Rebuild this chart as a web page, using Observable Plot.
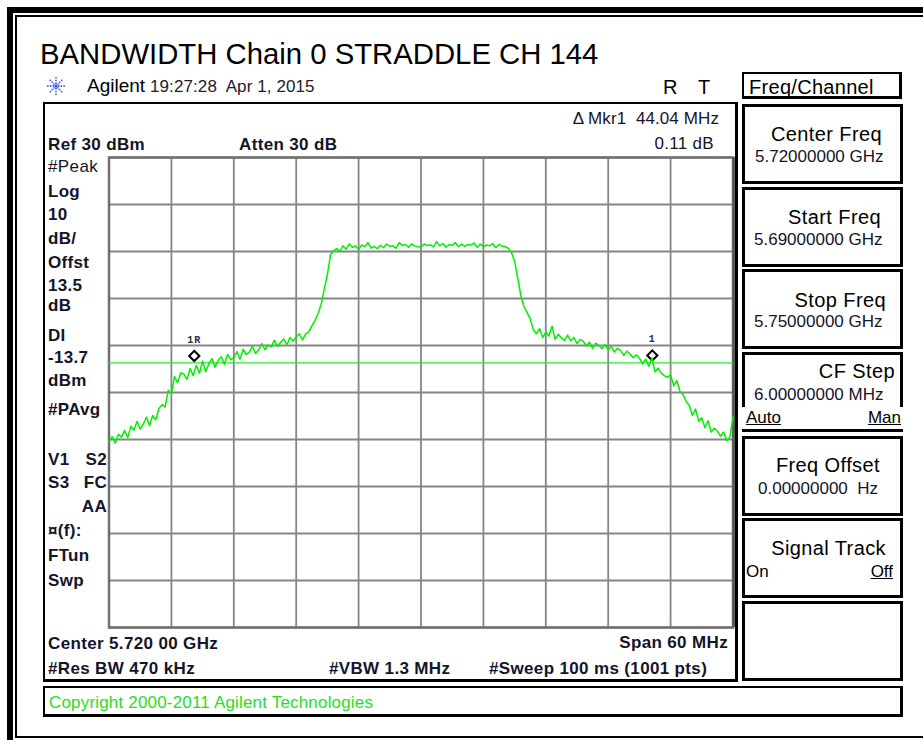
<!DOCTYPE html>
<html><head><meta charset="utf-8">
<script src="https://cdn.jsdelivr.net/npm/d3@7"></script>
<script src="https://cdn.jsdelivr.net/npm/@observablehq/plot@0.6"></script>
<style>
body{margin:0;background:#fff;}
#page{position:relative;width:923px;height:740px;overflow:hidden;background:#fff;font-family:"Liberation Sans",Arial,sans-serif;}
.t{position:absolute;white-space:pre;line-height:1;}
.box{position:absolute;box-sizing:border-box;border:2px solid #000;}
.sa text{letter-spacing:1px;}
</style></head><body><div id="page"></div><script>
// ---- data ----
const startMHz = 5690, stopMHz = 5750;
const xGrid = [5690, 5696, 5702, 5708, 5714, 5720, 5726, 5732, 5738, 5744, 5750];
const yGrid = [-70, -60, -50, -40, -30, -20, -10, 0, 10, 20, 30];
const displayLine = -13.7;
const traceDbm = [
 -30.5,-29.4,-30.8,-28.9,-29.5,-28.1,-29.6,-27.2,-28.0,-26.1,
 -27.8,-26.7,-25.2,-27.1,-24.9,-25.8,-23.4,-22.6,-23.1,-19.5,
 -20.3,-16.6,-17.9,-15.8,-16.1,-17.2,-14.9,-16.4,-14.2,-15.9,
 -13.3,-15.6,-13.9,-12.8,-14.6,-13.1,-12.4,-14.0,-11.9,-13.0,
 -12.6,-11.3,-12.9,-10.8,-11.9,-11.4,-10.2,-11.7,-10.9,-9.6,
 -10.9,-9.9,-10.3,-8.9,-10.2,-9.3,-8.6,-9.9,-8.3,-9.1,
 -8.2,-7.5,-8.8,-7.6,-7.1,-5.9,-4.7,-3.2,-1.2,2.0,
 5.1,9.3,10.2,10.6,10.1,11.2,10.5,11.6,10.9,11.2,
 10.4,11.4,11.0,11.9,10.7,11.1,10.6,11.3,10.8,11.6,
 11.1,11.2,10.7,11.9,11.3,11.5,10.9,11.6,11.2,11.0,
 10.9,11.6,11.3,11.4,11.0,12.1,11.2,11.7,10.9,11.5,
 11.3,11.9,11.0,11.6,11.1,11.5,11.4,11.8,10.9,11.6,
 11.0,11.4,11.2,11.7,10.8,11.5,11.1,11.0,10.7,9.8,
 7.9,4.4,0.6,-1.7,-3.0,-4.3,-6.6,-7.5,-6.4,-8.3,
 -7.2,-8.0,-5.9,-8.7,-7.6,-8.4,-8.9,-7.8,-9.0,-8.3,
 -9.6,-8.7,-9.1,-10.1,-9.3,-10.6,-9.5,-10.0,-10.7,-9.8,
 -10.9,-10.2,-11.4,-10.6,-11.1,-12.1,-11.2,-11.8,-12.6,-12.0,
 -12.7,-13.9,-12.9,-14.4,-12.6,-15.6,-14.8,-15.9,-16.4,-16.8,
 -16.2,-18.6,-17.5,-19.8,-20.4,-21.9,-22.8,-24.9,-23.5,-26.1,
 -25.4,-27.5,-26.0,-28.4,-27.6,-28.2,-29.3,-28.4,-30.2,-29.5,
 -25.2];
const markerFreq = [5698.2, 5742.24];
const markerDbm = [-13.6, -13.5];
const markerLabel = ["1R", "1"];

const titleText = "BANDWIDTH Chain 0 STRADDLE CH 144";
const leftLabels = [
 ["#Peak", 48, 172, false, "start"], ["Log", 48, 197, true, "start"], ["10", 48, 220, true, "start"],
 ["dB/", 48, 244, true, "start"], ["Offst", 48, 268, true, "start"], ["13.5", 48, 291, true, "start"],
 ["dB", 48, 311, true, "start"], ["DI", 48, 341, true, "start"], ["-13.7", 48, 363, true, "start"],
 ["dBm", 48, 386, true, "start"], ["#PAvg", 48, 415, true, "start"],
 ["V1", 48, 465, true, "start"], ["S2", 107, 465, true, "end"],
 ["S3", 48, 488, true, "start"], ["FC", 107, 488, true, "end"],
 ["AA", 107, 512, true, "end"], ["¤(f):", 48, 536, true, "start"],
 ["FTun", 48, 561, true, "start"], ["Swp", 48, 586, true, "start"]
];
const softkeyTops = [104, 187, 269, 352, 436, 518, 601];
const softkeyTitles = ["Center Freq", "Start Freq", "Stop Freq", "CF Step", "Freq Offset", "Signal Track", ""];
const softkeyTitleRight = [882, 881, 886, 895, 880, 886, 0];
const softkeyTitleDy = [37, 37, 37.5, 25.5, 35.7, 37, 0];
const softkeyValues = ["5.72000000 GHz", "5.69000000 GHz", "5.75000000 GHz", "6.00000000 MHz", "0.00000000  Hz", "", ""];
const softkeyValueLeft = [755, 754, 754, 754, 758, 0, 0];
const softkeyValueDy = [58.5, 58.5, 58, 48.5, 58, 0, 0];

// ---- helpers ----
const page = document.getElementById("page");
function txt(s, x, base, o = {}) {
  const size = o.size || 17;
  const d = document.createElement("div");
  d.className = "t";
  d.textContent = s;
  d.style.fontSize = size + "px";
  d.style.left = x + "px";
  d.style.top = (base - 0.8465 * size) + "px";
  d.style.color = o.color || "#14142a";
  if (o.bold) d.style.fontWeight = "bold";
  if (o.ls) d.style.letterSpacing = o.ls + "px";
  if (o.anchor === "end") d.style.transform = "translateX(-100%)";
  if (o.underline) d.style.textDecoration = "underline";
  page.appendChild(d);
  return d;
}
function box(x, y, w, h, bw = 2, extra = {}) {
  const d = document.createElement("div");
  d.className = "box";
  Object.assign(d.style, {left: x + "px", top: y + "px", width: w + "px", height: h + "px", borderWidth: bw + "px"}, extra);
  page.appendChild(d);
  return d;
}

// ---- chart ----
const freqs = traceDbm.map((_, i) => startMHz + i * (stopMHz - startMHz) / (traceDbm.length - 1));
const trace = traceDbm.map((v, i) => ({f: freqs[i], v}));
const markers = markerFreq.map((f, i) => ({f, v: markerDbm[i], label: markerLabel[i]}));

const chart = Plot.plot({
  width: 923, height: 740,
  marginLeft: 108.5, marginRight: 190.5, marginTop: 157, marginBottom: 113,
  x: {domain: [startMHz, stopMHz], axis: null},
  y: {domain: [-70, 30], axis: null},
  className: "sa",
  style: {background: "transparent", overflow: "visible"},
  marks: [
    Plot.ruleX(xGrid, {stroke: "#858585", strokeWidth: 1.8}),
    Plot.ruleY(yGrid, {stroke: "#858585", strokeWidth: 1.8}),
    Plot.frame({stroke: "#707070", strokeWidth: 2.5}),
    Plot.ruleX([stopMHz], {stroke: "#5a5a5a", strokeWidth: 3.5, dx: 1}),
    Plot.ruleY([displayLine], {stroke: "#2ee82e", strokeWidth: 1.2}),
    Plot.dot(markers, {x: "f", y: "v", symbol: "diamond2", r: 4.6, stroke: "#000", strokeWidth: 2, fill: "#fff", dy: -6.5}),
    Plot.line(trace, {x: "f", y: "v", stroke: "#00f000", strokeWidth: 1.5}),
    Plot.text(markers, {x: "f", y: "v", text: "label", dy: -23, fontSize: 10, fontFamily: "Liberation Mono", fontWeight: "bold", fill: "#2a2a4a"})
  ]
});
chart.style.position = "absolute";
chart.style.left = "0px";
chart.style.top = "0px";
page.appendChild(chart);

// ---- frames ----
box(7, 7, 940, 760, 6);
box(15, 15, 930, 723, 2);
box(43, 102, 695, 580, 2, {borderRightWidth: "3px", borderBottomWidth: "3px"});
box(43, 686, 860, 31, 2, {borderRightWidth: "3px", borderBottomWidth: "3px"});
box(742, 72, 160, 27, 2, {borderRightWidth: "3px", borderBottomWidth: "3px"});
softkeyTops.forEach(t => box(742, t, 161, 80, 3));

// ---- header ----
txt(titleText, 40, 63.5, {size: 29.3, color: "#000"});
const logo = document.createElementNS("http://www.w3.org/2000/svg", "svg");
logo.setAttribute("width", 22); logo.setAttribute("height", 22);
Object.assign(logo.style, {position: "absolute", left: "45px", top: "75px"});
let ray = "";
for (let k = 0; k < 8; k++) {
  const a = k * Math.PI / 4;
  ray += `<line x1="${11 + 2 * Math.cos(a)}" y1="${11 + 2 * Math.sin(a)}" x2="${11 + 9 * Math.cos(a)}" y2="${11 + 9 * Math.sin(a)}" stroke="#2233ee" stroke-width="1.3" stroke-dasharray="1.5 1.2"/>`;
}
logo.innerHTML = ray + `<circle cx="11" cy="11" r="1.5" fill="#2233ee"/>`;
page.appendChild(logo);
txt("Agilent", 87, 92, {size: 19, color: "#000"});
txt("19:27:28  Apr 1, 2015", 150, 92, {size: 17, ls: 0.1, color: "#231a2a"});
txt("R", 663, 94, {size: 20, color: "#000"});
txt("T", 698, 94, {size: 20, color: "#000"});
txt("Freq/Channel", 749, 94, {size: 20, ls: 0.3, color: "#000"});

// ---- left panel texts ----
txt("Ref 30 dBm", 48, 150, {size: 17, bold: true, ls: 0.35});
txt("Atten 30 dB", 239, 150, {size: 17, bold: true, ls: 0.35});
txt("\u0394 Mkr1  44.04 MHz", 719, 124, {size: 17, ls: 0.1, anchor: "end"});
txt("0.11 dB", 714, 149.5, {size: 17, ls: 0.3, anchor: "end"});
leftLabels.forEach(([s, x, b, bold, anchor]) => txt(s, x, b, {size: 17, bold, anchor, ls: bold ? 0.3 : 0.4}));
txt("Center 5.720 00 GHz", 48, 649, {size: 17, bold: true, ls: 0.35});
txt("Span 60 MHz", 728, 648, {size: 17, bold: true, ls: 0.35, anchor: "end"});
txt("#Res BW 470 kHz", 48, 674, {size: 17, bold: true, ls: 0.35});
txt("#VBW 1.3 MHz", 329, 674, {size: 17, bold: true, ls: 0.35});
txt("#Sweep 100 ms (1001 pts)", 489, 674, {size: 17, bold: true, ls: 0.35});
txt("Copyright 2000-2011 Agilent Technologies", 49, 708, {size: 17, ls: 0.18, color: "#1ee01e"});

// ---- softkeys ----
softkeyTops.forEach((t, i) => {
  if (softkeyTitles[i]) txt(softkeyTitles[i], softkeyTitleRight[i], t + softkeyTitleDy[i], {size: 20, ls: 0.4, anchor: "end", color: "#000"});
  if (softkeyValues[i]) txt(softkeyValues[i], softkeyValueLeft[i], t + softkeyValueDy[i], {size: 17, color: "#141428"});
});
const rowBg = document.createElement("div");
Object.assign(rowBg.style, {position: "absolute", left: "742px", top: "407px", width: "162px", height: "22px", background: "#fff"});
page.appendChild(rowBg);
txt("Auto", 746, 423, {size: 17, underline: true, color: "#000"});
txt("Man", 901, 423, {size: 17, underline: true, anchor: "end", color: "#000"});
txt("On", 746, 577, {size: 17, color: "#000"});
txt("Off", 893, 577, {size: 17, underline: true, anchor: "end", color: "#000"});
</script></body></html>
